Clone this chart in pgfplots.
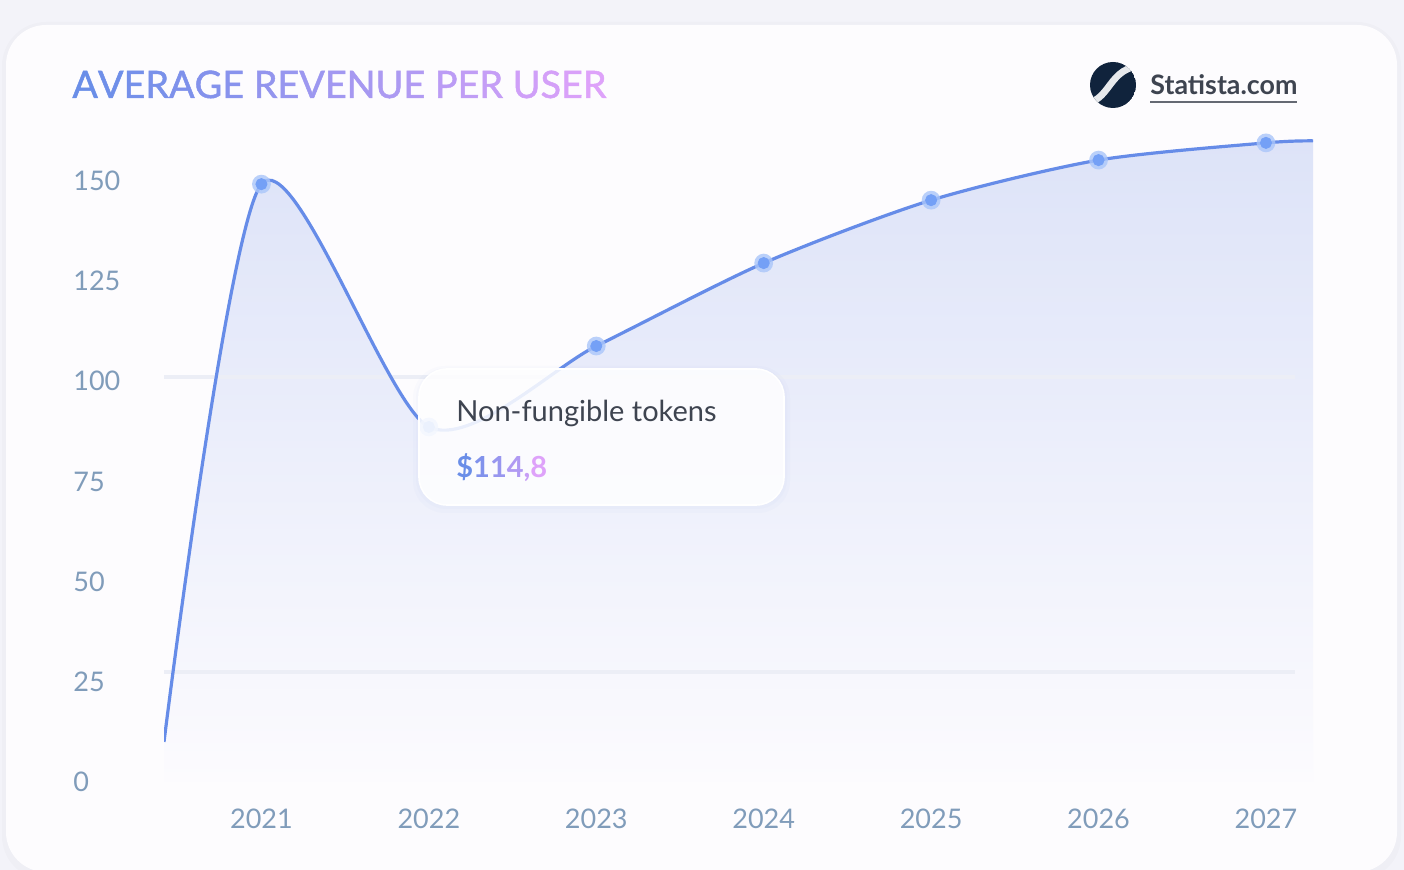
\documentclass[border=0pt]{standalone}
\usepackage{fontspec}
\setmainfont{Lato}
\newfontfamily\medfont[FakeBold=1.3]{Lato}
\usepackage{xcolor}
\usepackage{tikz}
\usepackage{pgfplots}
\pgfplotsset{compat=1.18}

\definecolor{outerbg}{RGB}{243,243,249}
\definecolor{cardbg}{RGB}{253,252,254}
\definecolor{tA}{RGB}{106,142,232}
\definecolor{tB}{RGB}{222,162,250}
\definecolor{tick}{RGB}{128,156,186}
\definecolor{linec}{RGB}{102,140,232}
\definecolor{dotc}{RGB}{116,160,246}
\definecolor{haloc}{RGB}{170,198,250}
\definecolor{fillT}{RGB}{221,227,248}
\definecolor{fillB}{RGB}{252,251,254}
\definecolor{gridc}{RGB}{236,238,246}
\definecolor{darktext}{RGB}{62,68,80}
\definecolor{navy}{RGB}{16,35,60}

% one letter of a gradient text
\newcommand\gl[2]{\textcolor{tB!#1!tA}{#2}}

\begin{document}
\begin{tikzpicture}
% card, in pixel units (1px = 0.5pt)
\begin{scope}[x=0.5pt,y=-0.5pt]
  \fill[outerbg] (0,0) rectangle (1404,870);
  \fill[black,opacity=0.015,rounded corners=22pt] (2,22) rectangle (1401,880);
  \fill[cardbg,rounded corners=20pt] (6,25) rectangle (1397,872);

  \node[anchor=base west,inner sep=0pt,font=\medfont\fontsize{18.9}{23}\selectfont] at (72,98)
    {\gl{0}{A}\gl{4}{V}\gl{9}{E}\gl{13}{R}\gl{17}{A}\gl{22}{G}\gl{26}{E} \gl{35}{R}\gl{39}{E}\gl{43}{V}\gl{48}{E}\gl{52}{N}\gl{57}{U}\gl{61}{E} \gl{70}{P}\gl{74}{E}\gl{78}{R} \gl{87}{U}\gl{91}{S}\gl{96}{E}\gl{100}{R}};

  % logo
  \begin{scope}
    \clip (1113,85) circle (23);
    \fill[navy] (1113,85) circle (23);
    \draw[white!90!navy,line width=3.4pt] (1080,103) .. controls (1112,106) and (1106,64) .. (1146,66);
  \end{scope}
  \node[anchor=base west,inner sep=0pt,font=\bfseries\fontsize{13.4}{16}\selectfont,text=darktext] at (1150,95) {Statista.com};
  \draw[darktext!80,line width=0.7pt] (1150,102) -- (1297,102);
\end{scope}

\begin{axis}[
  at={(82pt,-391pt)}, anchor=south west,
  scale only axis, width=574.5pt, height=340.6pt,
  xmin=2020.418, xmax=2027.281, ymin=0, ymax=170,
  axis line style={draw=none}, major tick length=0pt,
  xtick={2021,2022,2023,2024,2025,2026,2027},
  xticklabels={2021,2022,2023,2024,2025,2026,2027},
  ytick={0,25,50,75,100,125,150},
  /pgf/number format/assume math mode=true,
  xticklabel style={anchor=north,inner sep=0pt,yshift=-13.5pt,
    font=\fontsize{13.5}{16}\selectfont,text=tick},
  yticklabel style={anchor=west,inner sep=0pt,xshift=-45.5pt,
    font=\fontsize{13.5}{16}\selectfont,text=tick},
]
\addplot[draw=none,top color=fillT,bottom color=fillB,smooth,tension=0.45] coordinates {
  (2020.418,10) (2021,149.2) (2022,88.6) (2023,108.8) (2024,129.5)
  (2025,145.2) (2026,155.2) (2027,159.5) (2027.281,160)
} \closedcycle;
\draw[gridc,line width=2pt] (axis cs:2020.418,101.1) -- (axis cs:2027.174,101.1);
\draw[gridc,line width=2pt] (axis cs:2020.418,27.4) -- (axis cs:2027.174,27.4);
\addplot[linec,line width=1.6pt,smooth,tension=0.45] coordinates {
  (2020.418,10) (2021,149.2) (2022,88.6) (2023,108.8) (2024,129.5)
  (2025,145.2) (2026,155.2) (2027,159.5) (2027.281,160)
};
\addplot[only marks,mark=*,color=haloc,mark size=4.7pt,mark options={draw=haloc,fill=haloc,fill opacity=0.8,draw opacity=0}] coordinates {
  (2021,149.2) (2022,88.6) (2023,108.8) (2024,129.5) (2025,145.2) (2026,155.2) (2027,159.5)
};
\addplot[only marks,mark=*,color=dotc,mark size=2.8pt,mark options={draw=dotc,fill=dotc}] coordinates {
  (2021,149.2) (2022,88.6) (2023,108.8) (2024,129.5) (2025,145.2) (2026,155.2) (2027,159.5)
};
\end{axis}

% tooltip
\begin{scope}[x=0.5pt,y=-0.5pt]
  \fill[tA,opacity=0.025,rounded corners=16pt] (413,366) rectangle (790,513);
  \fill[tA,opacity=0.025,rounded corners=15pt] (416,368) rectangle (787,509);
  \fill[white,opacity=0.86,rounded corners=14pt] (419,369) rectangle (784,505);
  \draw[white,line width=0.8pt,rounded corners=14pt] (419,369) rectangle (784,505);
  \node[anchor=base west,inner sep=0pt,font=\fontsize{14.5}{17}\selectfont,text=darktext] at (456,422) {Non-fungible tokens};
  \node[anchor=base west,inner sep=0pt,font=\bfseries\fontsize{14.5}{17}\selectfont] at (456,478)
    {\gl{0}{\$}\gl{20}{1}\gl{40}{1}\gl{60}{4}\gl{80}{,}\gl{100}{8}};
  \pgfresetboundingbox
  \useasboundingbox (0,0) rectangle (1404,870);
\end{scope}
\end{tikzpicture}
\end{document}
